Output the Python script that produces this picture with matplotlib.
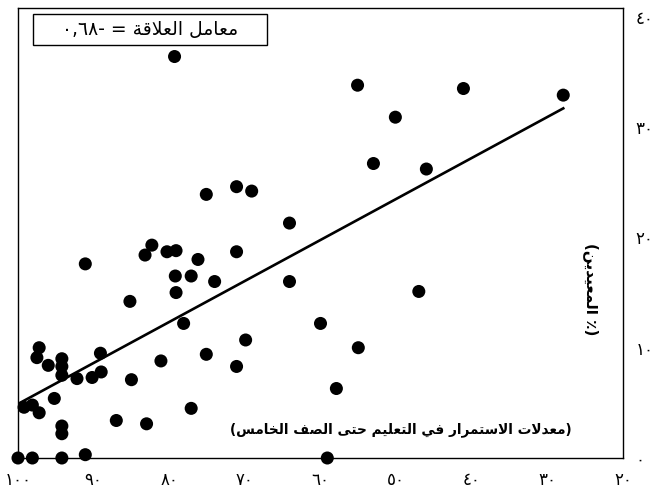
import re
import matplotlib
matplotlib.use("Agg")
import matplotlib.pyplot as plt
from matplotlib.patches import Rectangle

# ---------------- data ----------------
continuation_rate = [79.3, 55.1, 41.1, 27.9, 50.1, 53.0, 46.0, 71.1, 69.1, 75.1,
                     64.1, 47.0, 64.1, 60.0, 55.0, 57.9, 82.3, 83.2, 80.3, 79.1,
                     76.2, 71.1, 79.2, 77.1, 74.0, 79.1, 78.1, 69.9, 81.1, 75.1,
                     71.1, 77.1, 83.0, 91.1, 85.2, 97.2, 97.5, 96.0, 94.2, 94.2,
                     94.2, 92.2, 90.2, 89.0, 89.1, 85.0, 95.2, 99.2, 98.1, 97.2,
                     94.2, 94.2, 87.0, 100.0, 98.1, 94.2, 91.1, 59.1]
repeaters_pct = [36.4, 33.8, 33.5, 32.9, 30.9, 26.7, 26.2, 24.6, 24.2, 23.9,
                 21.3, 15.1, 16.0, 12.2, 10.0, 6.3, 19.3, 18.4, 18.7, 18.8,
                 18.0, 18.7, 16.5, 16.5, 16.0, 15.0, 12.2, 10.7, 8.8, 9.4,
                 8.3, 4.5, 3.1, 17.6, 14.2, 10.0, 9.1, 8.4, 9.0, 8.3,
                 7.5, 7.2, 7.3, 7.8, 9.5, 7.1, 5.4, 4.6, 4.8, 4.1,
                 2.9, 2.2, 3.4, 0.0, 0.0, 0.0, 0.3, 0.0]

fit_x = [100, 27.9]
fit_y = [4.9, 31.7]

x_ticks = [100, 90, 80, 70, 60, 50, 40, 30, 20]
x_tick_labels = ['١٠٠', '٩٠', '٨٠', '٧٠', '٦٠', '٥٠', '٤٠', '٣٠', '٢٠']
y_ticks = [0, 10, 20, 30, 40]
y_tick_labels = ['٠', '١٠', '٢٠', '٣٠', '٤٠']

corr_text = 'معامل العلاقة = -٠,٦٨'
x_label = '(معدلات الاستمرار في التعليم حتى الصف الخامس)'
y_label = '(٪ المعيدين)'

# ---------------- minimal Arabic shaping ----------------
FORMS = {
    '\u0627': ('\uFE8D', '\uFE8E', None, None),
    '\u0629': ('\uFE93', '\uFE94', None, None),
    '\u062A': ('\uFE95', '\uFE96', '\uFE97', '\uFE98'),
    '\u062D': ('\uFEA1', '\uFEA2', '\uFEA3', '\uFEA4'),
    '\u062E': ('\uFEA5', '\uFEA6', '\uFEA7', '\uFEA8'),
    '\u062F': ('\uFEA9', '\uFEAA', None, None),
    '\u0631': ('\uFEAD', '\uFEAE', None, None),
    '\u0633': ('\uFEB1', '\uFEB2', '\uFEB3', '\uFEB4'),
    '\u0635': ('\uFEB9', '\uFEBA', '\uFEBB', '\uFEBC'),
    '\u0639': ('\uFEC9', '\uFECA', '\uFECB', '\uFECC'),
    '\u0641': ('\uFED1', '\uFED2', '\uFED3', '\uFED4'),
    '\u0642': ('\uFED5', '\uFED6', '\uFED7', '\uFED8'),
    '\u0644': ('\uFEDD', '\uFEDE', '\uFEDF', '\uFEE0'),
    '\u0645': ('\uFEE1', '\uFEE2', '\uFEE3', '\uFEE4'),
    '\u0646': ('\uFEE5', '\uFEE6', '\uFEE7', '\uFEE8'),
    '\u0649': ('\uFEEF', '\uFEF0', None, None),
    '\u064A': ('\uFEF1', '\uFEF2', '\uFEF3', '\uFEF4'),
}
LAM_ALEF = ('\uFEFB', '\uFEFC')


def shape(text):
    units = []
    i = 0
    while i < len(text):
        c = text[i]
        if c == '\u0644' and i + 1 < len(text) and text[i + 1] == '\u0627':
            units.append('LA')
            i += 2
        else:
            units.append(c)
            i += 1

    def is_letter(u):
        return u == 'LA' or u in FORMS

    def joins_next(u):
        return u in FORMS and FORMS[u][2] is not None

    out = []
    for k, u in enumerate(units):
        prev = units[k - 1] if k > 0 else None
        nxt = units[k + 1] if k + 1 < len(units) else None
        cp = prev is not None and joins_next(prev) and is_letter(u)
        if u == 'LA':
            out.append(LAM_ALEF[1] if cp else LAM_ALEF[0])
            continue
        if u not in FORMS:
            out.append(u)
            continue
        f = FORMS[u]
        cn = f[2] is not None and nxt is not None and is_letter(nxt)
        if cp and cn:
            out.append(f[3])
        elif cp:
            out.append(f[1])
        elif cn:
            out.append(f[2])
        else:
            out.append(f[0])
    return ''.join(out)


MIRROR = {'(': ')', ')': '('}


def visual(text):
    s = shape(text)
    runs = re.findall(r'[\u0660-\u0669][\u0660-\u0669,]*|[^\u0660-\u0669]+', s)
    res = []
    for r in reversed(runs):
        if '\u0660' <= r[0] <= '\u0669':
            res.append(r)
        else:
            res.append(''.join(MIRROR.get(ch, ch) for ch in reversed(r)))
    return ''.join(res)


# ---------------- figure ----------------
plt.rcParams['font.family'] = ['DejaVu Sans']
fig = plt.figure(figsize=(6.52, 4.94), dpi=100)
ax = fig.add_axes([18 / 652, 1 - 458 / 494, 605 / 652, 450 / 494])

ax.plot(fit_x, fit_y, color='black', lw=1.9, zorder=2)
ax.scatter(continuation_rate, repeaters_pct, s=88, color='black',
           edgecolors='none', zorder=3, clip_on=False)

ax.set_xlim(100, 20)
ax.set_ylim(0, 40.8)
ax.set_xticks(x_ticks)
ax.set_xticklabels(x_tick_labels, fontsize=12)
ax.set_yticks(y_ticks)
ax.set_yticklabels(y_tick_labels, fontsize=12)
ax.yaxis.tick_right()
ax.tick_params(axis='x', length=0, pad=9)
ax.tick_params(axis='y', length=0, pad=9)
for sp in ax.spines.values():
    sp.set_linewidth(1.0)
    sp.set_color('black')

# correlation box
ax.add_patch(Rectangle((15 / 605, (458 - 45) / 450), 234 / 605, 31 / 450,
                       transform=ax.transAxes, fill=False, edgecolor='black',
                       lw=1.0, zorder=4))
ax.text((15 + 117) / 605, (458 - 29.5) / 450, visual(corr_text),
        transform=ax.transAxes, ha='center', va='center', fontsize=13.5, zorder=5)

ax.text((401 - 18) / 605, (458 - 430) / 450, visual(x_label),
        transform=ax.transAxes, ha='center', va='center', fontsize=9.8,
        fontweight='bold')
ax.text((591 - 18) / 605, (458 - 289) / 450, visual(y_label),
        transform=ax.transAxes, ha='center', va='center', fontsize=11,
        fontweight='bold', rotation=-90)

fig.savefig('out.png', dpi=100)
